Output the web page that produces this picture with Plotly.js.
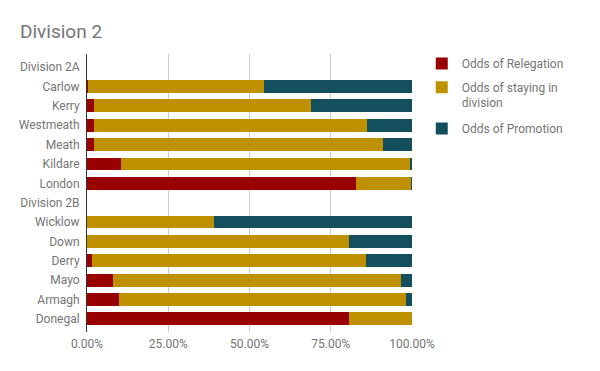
<!DOCTYPE html>
<html>
<head>
<meta charset="utf-8">
<script src="https://cdn.plot.ly/plotly-3.0.1.min.js"></script>
<style>html,body{margin:0;padding:0;background:#fff}#chart{width:600px;height:371px}</style>
</head>
<body>
<div id="chart"></div>
<script>
const categories = ["Division 2A","Carlow","Kerry","Westmeath","Meath","Kildare","London","Division 2B","Wicklow","Down","Derry","Mayo","Armagh","Donegal"];
const relegation = [null, 0.4, 2.0, 2.0, 2.3, 10.6, 82.7, null, 0.0, 0.0, 1.4, 8.1, 9.7, 80.5];
const staying    = [null, 54.0, 66.9, 84.3, 88.7, 88.9, 17.1, null, 39.0, 80.5, 84.3, 88.4, 88.6, 19.5];
const promotion  = [null, 45.6, 31.1, 13.7, 9.0, 0.5, 0.2, null, 61.0, 19.5, 14.3, 3.5, 1.7, 0.0];
const seriesNames = ["Odds of Relegation", "Odds of staying in<br>division", "Odds of Promotion"];
const seriesColors = ["#990000", "#bf9000", "#134f5c"];
const xTickVals = [0, 0.25, 0.5, 0.75, 1];

const toFrac = a => a.map(v => v === null ? null : v / 100);
const series = [relegation, staying, promotion];
const legendIds = ['legend', 'legend2', 'legend3'];
const traces = series.map((vals, i) => ({
  type: 'bar',
  orientation: 'h',
  y: categories,
  x: toFrac(vals),
  name: seriesNames[i],
  legend: legendIds[i],
  marker: {color: seriesColors[i], line: {width: 0}},
  hoverinfo: 'skip'
}));

const legendBase = {x: 1.03, xanchor: 'left', yanchor: 'top', valign: 'top', font: {size: 12, color: '#757575'}, bgcolor: 'rgba(0,0,0,0)'};

const layout = {
  width: 600, height: 371,
  margin: {l: 86.5, r: 187.5, t: 54, b: 39},
  barmode: 'stack',
  bargap: 0.34,
  paper_bgcolor: '#fff', plot_bgcolor: '#fff',
  font: {family: 'Roboto, sans-serif', size: 12, color: '#757575'},
  title: {text: 'Division 2', x: 20/600, xanchor: 'left', xref: 'container', y: 1 - 31/371, yanchor: 'middle', yref: 'container', font: {size: 19, color: '#757575'}},
  xaxis: {range: [0, 1], tickvals: xTickVals, tickformat: '.2%', showgrid: true, gridcolor: '#cccccc', gridwidth: 1, zeroline: false, showline: false, ticks: '', ticklabelstandoff: 3, fixedrange: true, tickfont: {size: 12, color: '#757575'}},
  yaxis: {type: 'category', categoryorder: 'array', categoryarray: categories, range: [13.68, -0.68], showgrid: false, zeroline: false, showline: true, linecolor: '#333333', linewidth: 1, ticks: '', ticklabelstandoff: 4, fixedrange: true, tickfont: {size: 12, color: '#757575'}},
  showlegend: true,
  legend: Object.assign({}, legendBase, {y: 1.0176}),
  legend2: Object.assign({}, legendBase, {y: 0.9321}),
  legend3: Object.assign({}, legendBase, {y: 0.7838})
};

Plotly.newPlot('chart', traces, layout, {displayModeBar: false, staticPlot: true});
</script>
</body>
</html>
